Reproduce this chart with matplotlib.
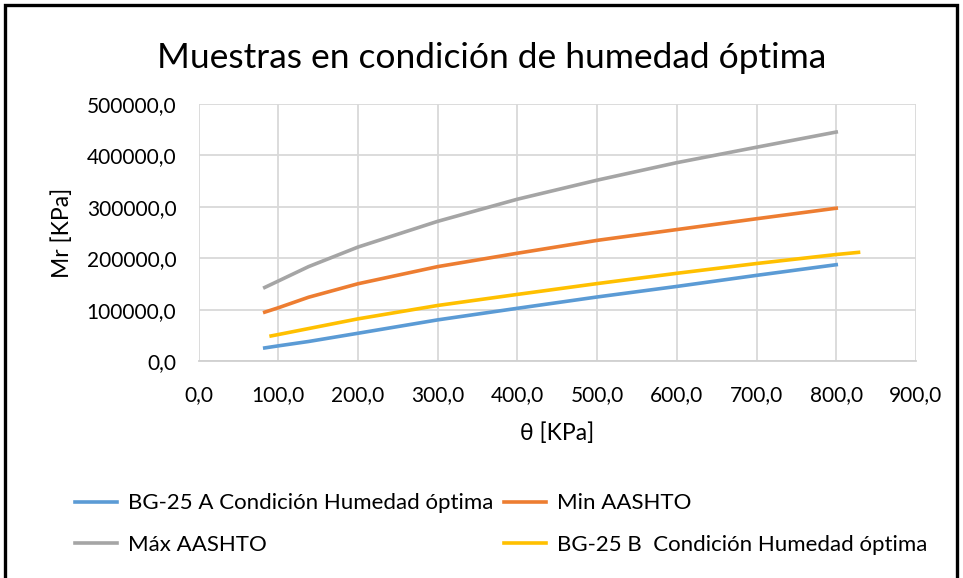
import matplotlib.pyplot as plt
from matplotlib.patches import Rectangle

# theta [KPa] and Mr [KPa]
theta_ab = [83, 100, 138, 200, 300, 400, 500, 600, 700, 800]
mr_bg25a = [26000, 30000, 38500, 54500, 80500, 103000, 125000, 145500, 167000, 187700]
mr_min = [95500, 104000, 124500, 150700, 184000, 210000, 235000, 256000, 277000, 297500]
mr_max = [143500, 156000, 184000, 222000, 272000, 315000, 352000, 386000, 416000, 445500]

theta_b = [91, 100, 200, 300, 400, 500, 600, 700, 800, 828]
mr_bg25b = [49300, 52000, 82500, 108500, 130000, 151000, 171000, 190000, 207500, 211700]

x_ticks = [0, 100, 200, 300, 400, 500, 600, 700, 800, 900]
y_ticks = [0, 100000, 200000, 300000, 400000, 500000]

plt.rcParams['font.family'] = ['Lato', 'DejaVu Sans']

fig = plt.figure(figsize=(9.63, 5.78), dpi=100)
ax = fig.add_axes([198.6 / 963, 1 - 361.3 / 578, (915.9 - 198.6) / 963, (361.3 - 104) / 578])

lw = 2.6
l_a, = ax.plot(theta_ab, mr_bg25a, color="#5B9BD5", lw=lw, label="BG-25 A Condición Humedad óptima")
l_min, = ax.plot(theta_ab, mr_min, color="#ED7D31", lw=lw, label="Min AASHTO")
l_max, = ax.plot(theta_ab, mr_max, color="#A5A5A5", lw=lw, label="Máx AASHTO")
l_b, = ax.plot(theta_b, mr_bg25b, color="#FFC000", lw=lw, label="BG-25 B  Condición Humedad óptima")

ax.set_xlim(0, 900)
ax.set_ylim(0, 500000)
ax.set_xticks(x_ticks)
ax.set_yticks(y_ticks)
ax.set_xticklabels([f"{v:.1f}".replace(".", ",") for v in x_ticks])
ax.set_yticklabels([f"{v:.1f}".replace(".", ",") for v in y_ticks])
ax.tick_params(length=0, labelsize=15, colors="#000000")
ax.tick_params(axis="x", pad=17)
ax.tick_params(axis="y", pad=16)
ax.grid(True, color="#D9D9D9", lw=1.3)
ax.set_axisbelow(True)
for s in ["top", "right", "left"]:
    ax.spines[s].set_visible(False)
ax.spines["bottom"].set_color("#D0D0D0")
ax.spines["bottom"].set_linewidth(1.3)

ax.set_xlabel("θ [KPa]", fontsize=16.5, va="center")
ax.xaxis.set_label_coords(0.5, (361.3 - 433) / 257.3)
ax.set_ylabel("Mr [KPa]", fontsize=16.5, va="center")
ax.yaxis.set_label_coords((62 - 198.6) / 717.3, 0.5)
fig.suptitle("Muestras en condición de humedad óptima", fontsize=25.5,
             x=492 / 963, y=1 - 68 / 578, va="baseline")

fig.legend(handles=[l_a, l_max, l_min, l_b], ncol=2, loc="center left",
           bbox_to_anchor=(75 / 963, 1 - 524 / 578), frameon=False,
           borderaxespad=0, borderpad=0,
           fontsize=16, handlelength=1.9, handletextpad=0.5, columnspacing=0.45,
           labelspacing=0.95)

# outer black frame (bottom edge lies below the picture)
fig.patches.append(Rectangle((4.5 / 963, -0.05), (957 - 4.5) / 963, 1.05 - 4.5 / 578,
                             transform=fig.transFigure, fill=False, ec="black", lw=2.4))

fig.savefig("out.png", dpi=100)
